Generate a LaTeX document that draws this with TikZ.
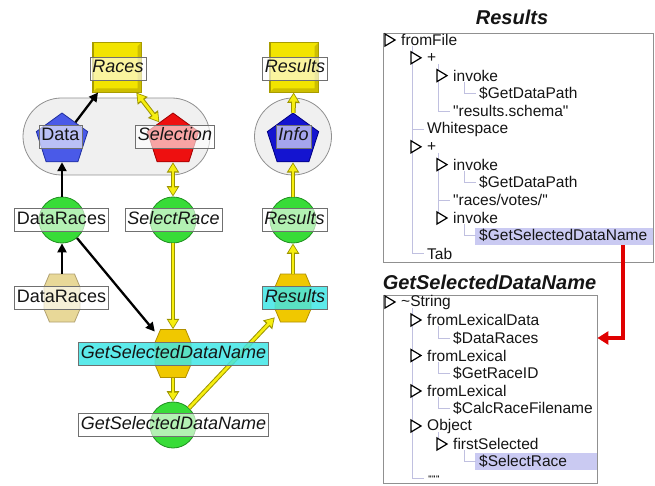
\documentclass[tikz,border=0pt]{standalone}
\usepackage{fontspec}
\setmainfont{Liberation Sans}
\usetikzlibrary{arrows.meta,shapes.geometric,calc}
\definecolor{ylw}{HTML}{F6EE10}
\definecolor{ydk}{HTML}{9C9400}
\definecolor{sqy}{HTML}{F2E400}
\definecolor{sqb}{HTML}{CDBE00}
\definecolor{sqd}{HTML}{A89C00}
\definecolor{grn}{HTML}{38DC38}
\definecolor{grnd}{HTML}{209020}
\definecolor{pblue}{HTML}{4A5AE8}
\definecolor{pblued}{HTML}{2030A0}
\definecolor{pred}{HTML}{EE1010}
\definecolor{predd}{HTML}{A00000}
\definecolor{pnavy}{HTML}{1414D0}
\definecolor{pnavyd}{HTML}{000080}
\definecolor{tanf}{HTML}{E8D898}
\definecolor{tand}{HTML}{B0A070}
\definecolor{gold}{HTML}{F0C800}
\definecolor{goldd}{HTML}{B09000}
\definecolor{cyanl}{HTML}{40E6E6}
\definecolor{lgray}{HTML}{707070}
\definecolor{grpf}{HTML}{F0F0F0}
\definecolor{grpd}{HTML}{909090}
\definecolor{guide}{HTML}{C0C0E0}
\definecolor{hil}{HTML}{CACAF2}
\definecolor{txt}{HTML}{151515}
\definecolor{redar}{HTML}{E00000}
\newcommand{\octat}[2]{\filldraw[line width=0.8pt,#2] (#1.center) ++(-12.5,-24) -- ++(25,0) -- ++(5.5,13) -- ++(0,22) -- ++(-5.5,13) -- ++(-25,0) -- ++(-5.5,-13) -- ++(0,-22) -- cycle;}
\newcommand{\trixy}[2]{\filldraw[tri] (#1-1,#2-6) -- ++(10,6) -- ++(-10,6) -- cycle;}
\newcommand{\bevel}[1]{\fill[sqb] (#1.south west) -- (#1.south east) -- (#1.north east) -- ([xshift=-4pt,yshift=-4pt]#1.north east) -- ([xshift=-4pt,yshift=4pt]#1.south east) -- ([xshift=4pt,yshift=4pt]#1.south west) -- cycle;
  \draw[sqd, line width=1pt] (#1.south west) rectangle (#1.north east);}
\tikzset{
  grp/.style={draw=grpd, fill=grpf, line width=0.8pt, inner sep=0pt},
  sq/.style={rectangle, draw=sqd, fill=sqy, line width=1pt, minimum width=48pt, minimum height=49pt, inner sep=0pt},
  pent/.style={regular polygon, regular polygon sides=5, minimum size=54pt, inner sep=0pt, line width=0.8pt},
  ball/.style={circle, draw=grnd, fill=grn, minimum size=46pt, inner sep=0pt, line width=0.8pt},
  hexa/.style={rectangle, minimum width=36pt, minimum height=48pt, inner sep=0pt},
  lbl/.style={rectangle, draw=lgray, line width=0.8pt, fill=white, fill opacity=0.62, text opacity=1, text=txt,
    font=\fontsize{18}{20}\selectfont, inner xsep=2.5pt, inner ysep=3pt, text height=13pt, text depth=4pt},
  lblc/.style={lbl, fill=cyanl, fill opacity=0.85},
  blk/.style={draw=black, line width=2.3pt, -{Triangle[length=9pt,width=9pt]}},
  yel/.style={draw=ylw, line width=2.6pt, -{Triangle[length=7.5pt,width=8.5pt]}, shorten >=1.6pt,
    preaction={draw=ydk, line width=4.6pt, shorten >=0pt, -{Triangle[length=10.5pt,width=12pt]}}},
  yeltwo/.style={draw=ylw, line width=2.6pt, {Triangle[length=7.5pt,width=8.5pt]}-{Triangle[length=7.5pt,width=8.5pt]}, shorten >=1.6pt, shorten <=1.6pt,
    preaction={draw=ydk, line width=4.6pt, shorten >=0pt, shorten <=0pt, {Triangle[length=10.5pt,width=12pt]}-{Triangle[length=10.5pt,width=12pt]}}},
  panel/.style={rectangle, draw=grpd, fill=white, line width=0.8pt, inner sep=0pt},
  hl/.style={rectangle, fill=hil, inner sep=0pt},
  it/.style={anchor=west, inner sep=0pt, text=txt, font=\fontsize{15.5}{17}\selectfont},
  ttl/.style={inner sep=0pt, text=txt, font=\fontsize{20}{22}\selectfont\bfseries\itshape},
  gd/.style={draw=guide, line width=0.9pt},
  tri/.style={draw=black, fill=white, line width=1.2pt, line join=miter},
  redarr/.style={draw=redar, line width=3.6pt, -{Triangle[length=11pt,width=13pt]}}
}
\begin{document}
\begin{tikzpicture}[x=1pt,y=-1pt]
\useasboundingbox (0,0) rectangle (655,486);
% ---------- left graph ----------
\node[grp, minimum width=187pt, minimum height=77pt, rounded corners=38.5pt] (grpA) at (116.5,136.5) {};
\node[grp, circle, minimum size=77pt] (grpB) at (293,136.5) {};
\node[sq] (sqRaces) at (117,67.5) {};
\node[sq] (sqResults) at (294,67.5) {};
\bevel{sqRaces}
\bevel{sqResults}
\node[pent, fill=pblue, draw=pblued] (pData) at (62,140) {};
\node[pent, fill=pred, draw=predd] (pSel) at (173,140) {};
\node[pent, fill=pnavy, draw=pnavyd] (pInfo) at (293,140) {};
\node[ball] (cDR) at (62,220) {};
\node[ball] (cSR) at (173,220) {};
\node[ball] (cRes) at (293,220) {};
\node[ball] (cGS) at (173,425) {};
\node[hexa] (hDR) at (62,298) {};
\node[hexa] (hRes) at (293,298) {};
\node[hexa] (hGS) at (173,353.5) {};
\octat{hDR}{fill=tanf, draw=tand}
\octat{hRes}{fill=gold, draw=goldd}
\octat{hGS}{fill=gold, draw=goldd}
% connectors
\draw[blk] (pData) -- (sqRaces);
\draw[yeltwo] (sqRaces) -- (pSel);
\draw[yeltwo] (pSel) -- (cSR);
\draw[yel] (pInfo) -- (sqResults);
\draw[yel] (cRes) -- (pInfo);
\draw[blk] (cDR) -- (pData);
\draw[blk] (hDR) -- (cDR);
\draw[blk] (cDR) -- (hGS);
\draw[yel] (cSR) -- (hGS);
\draw[yel] (hGS) -- (cGS);
\draw[yel] (cGS) -- (hRes);
\draw[yel] (hRes) -- (cRes);
% labels
\node[lbl] (lRaces) at (118,68.5) {\itshape Races};
\node[lbl] (lResultsA) at (295,68.5) {\itshape Results};
\node[lbl] (lData) at (60.5,136.5) {Data};
\node[lbl] (lSel) at (175,136.5) {\itshape Selection};
\node[lbl] (lInfo) at (293.5,136.5) {\itshape Info};
\node[lbl] (lDRa) at (61.5,220) {DataRaces};
\node[lbl] (lSR) at (173.5,220) {\itshape SelectRace};
\node[lbl] (lResB) at (294.5,220) {\itshape Results};
\node[lbl] (lDRb) at (61.5,297.5) {DataRaces};
\node[lblc] (lResC) at (295,297.5) {\itshape Results};
\node[lblc] (lGSa) at (173.5,353.5) {\itshape GetSelectedDataName};
\node[lbl] (lGSb) at (173.5,425) {\itshape GetSelectedDataName};
% ---------- right panel ----------
\node[ttl] (t1) at (512,17) {Results};
\node[panel, minimum width=270pt, minimum height=229pt] (box1) at (518,147.5) {};
\node[hl, minimum width=178pt, minimum height=17pt] (hl1) at (564,236.5) {};
% guides box1
\draw[gd] (412,46) -- (412,253.6) -- (424,253.6);
\draw[gd] (412,129) -- (424,129);
\draw[gd] (438,64) -- (438,111.2) -- (450,111.2);
\draw[gd] (464,82) -- (464,93.4) -- (476,93.4);
\draw[gd] (438,153) -- (438,212);
\draw[gd] (438,200.2) -- (450,200.2);
\draw[gd] (464,171) -- (464,182.4) -- (476,182.4);
\draw[gd] (464,224) -- (464,235.8) -- (476,235.8);
\trixy{386}{40}
\trixy{412}{57.8}
\trixy{438}{75.6}
\trixy{412}{146.8}
\trixy{438}{164.6}
\trixy{438}{218}
\node[it] (a1) at (401,40) {fromFile};
\node[it] (a2) at (427,57.8) {+};
\node[it] (a3) at (453,75.6) {invoke};
\node[it] (a4) at (479,93.4) {\$GetDataPath};
\node[it] (a5) at (453,111.2) {\textquotedbl results.schema\textquotedbl};
\node[it] (a6) at (427,129) {Whitespace};
\node[it] (a7) at (427,146.8) {+};
\node[it] (a8) at (453,164.6) {invoke};
\node[it] (a9) at (479,182.4) {\$GetDataPath};
\node[it] (a10) at (453,200.2) {\textquotedbl races/votes/\textquotedbl};
\node[it] (a11) at (453,218) {invoke};
\node[it] (a12) at (479,235.8) {\$GetSelectedDataName};
\node[it] (a13) at (427,253.6) {Tab};
% box2
\node[ttl] (t2) at (489.5,282) {GetSelectedDataName};
\node[panel, minimum width=214pt, minimum height=188pt] (box2) at (490,389) {};
\node[hl, minimum width=122pt, minimum height=17pt] (hl2) at (536,461) {};
\draw[gd] (412,308) -- (412,478) -- (424,478);
\draw[gd] (438,326) -- (438,338) -- (450,338);
\draw[gd] (438,361.5) -- (438,373) -- (450,373);
\draw[gd] (438,397) -- (438,408.5) -- (450,408.5);
\draw[gd] (438,432) -- (438,438);
\draw[gd] (464,450) -- (464,461.5) -- (476,461.5);
\trixy{386}{302}
\trixy{412}{320}
\trixy{412}{355.5}
\trixy{412}{391}
\trixy{412}{426}
\trixy{438}{444}
\node[it] (b1) at (401,302) {\textasciitilde String};
\node[it] (b2) at (427,320) {fromLexicalData};
\node[it] (b3) at (453,338) {\$DataRaces};
\node[it] (b4) at (427,355.5) {fromLexical};
\node[it] (b5) at (453,373) {\$GetRaceID};
\node[it] (b6) at (427,391) {fromLexical};
\node[it] (b7) at (453,408.5) {\$CalcRaceFilename};
\node[it] (b8) at (427,426) {Object};
\node[it] (b9) at (453,444) {firstSelected};
\node[it] (b10) at (479,461.5) {\$SelectRace};
\node[it, font=\fontsize{8}{8}\selectfont\bfseries] (b11) at (428,479) {\textquotedbl\textquotedbl\textquotedbl};
% red connector
\draw[redarr] ([xshift=-30pt]hl1.south east) |- (b3.east -| box2.east);
\end{tikzpicture}
\end{document}
